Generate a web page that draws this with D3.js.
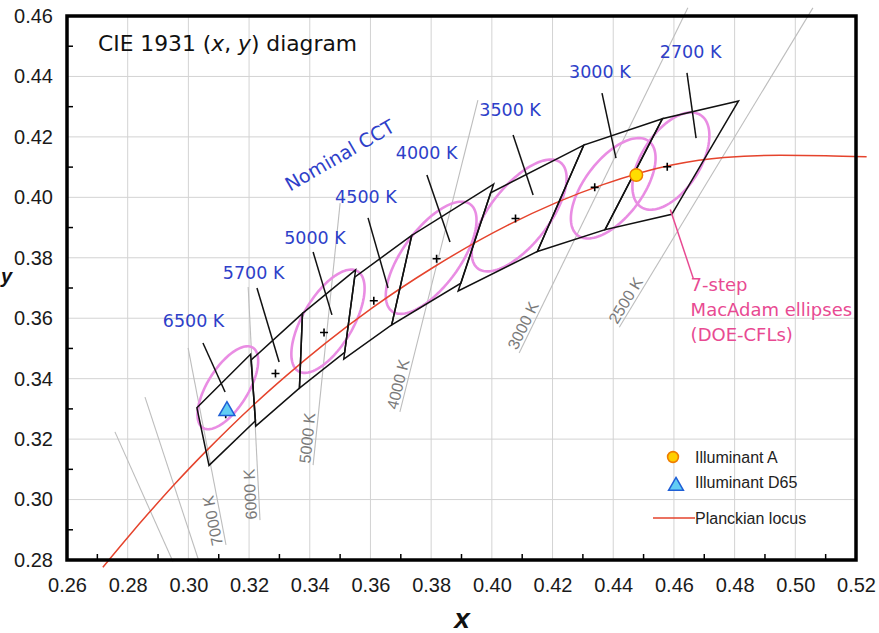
<!DOCTYPE html>
<html><head><meta charset="utf-8">
<script src="https://cdn.jsdelivr.net/npm/d3@7"></script>
<style>body{margin:0;background:#fff}svg{display:block}</style>
</head><body>
<svg id="chart" width="879" height="633"></svg>
<script>
// ---------------- data ----------------
const xTicks = [0.26,0.28,0.30,0.32,0.34,0.36,0.38,0.40,0.42,0.44,0.46,0.48,0.50,0.52];
const yTicks = [0.28,0.30,0.32,0.34,0.36,0.38,0.40,0.42,0.44,0.46];
const xMinor = [0.27,0.29,0.31,0.33,0.35,0.37,0.39,0.41,0.43,0.45,0.47,0.49,0.51];
const yMinor = [0.29,0.31,0.33,0.35,0.37,0.39,0.41,0.43,0.45];

// Planckian locus (x, y)
const planckX = [0.2718,0.2807,0.2870,0.2952,0.3064,0.3135,0.3220,0.3323,0.3450,0.3607,0.3805,0.4053,0.4366,0.4593,0.4765,0.4950,0.5100,0.5235];
const planckY = [0.2776,0.2883,0.2956,0.3048,0.3166,0.3237,0.3318,0.3410,0.3516,0.3635,0.3767,0.3908,0.4042,0.4107,0.4132,0.4139,0.4138,0.4134];

// Nominal CCT quadrangles (ANSI) and centre points
const cctLabels = ["6500 K","5700 K","5000 K","4500 K","4000 K","3500 K","3000 K","2700 K"];
const centerX = [0.3123,0.3287,0.3447,0.3611,0.3818,0.4078,0.4339,0.4578];
const centerY = [0.3282,0.3417,0.3553,0.3658,0.3797,0.3930,0.4033,0.4101];
const quadX = [
  [0.3205,0.3028,0.3068,0.3221],
  [0.3376,0.3207,0.3222,0.3366],
  [0.3551,0.3376,0.3366,0.3515],
  [0.3736,0.3548,0.3512,0.3670],
  [0.4006,0.3736,0.3670,0.3898],
  [0.4303,0.3996,0.3889,0.4150],
  [0.4562,0.4303,0.4150,0.4373],
  [0.4813,0.4562,0.4373,0.4593]
];
const quadY = [
  [0.3481,0.3304,0.3113,0.3261],
  [0.3616,0.3462,0.3243,0.3369],
  [0.3760,0.3616,0.3369,0.3487],
  [0.3874,0.3736,0.3465,0.3578],
  [0.4044,0.3874,0.3578,0.3716],
  [0.4173,0.4015,0.3690,0.3821],
  [0.4260,0.4173,0.3821,0.3893],
  [0.4319,0.4260,0.3893,0.3944]
];

// 7-step MacAdam ellipses (DOE-CFLs)
const ellCX = [0.313,0.346,0.380,0.409,0.440,0.459];
const ellCY = [0.337,0.359,0.380,0.394,0.403,0.412];
const ellA  = [0.0156,0.0192,0.0219,0.0222,0.0195,0.0181];
const ellB  = [0.0067,0.0083,0.0094,0.0097,0.0095,0.0096];
const ellTheta = [58.2,59.6,54.0,52.1,53.1,57.3];

// iso-temperature lines (top end, bottom end)
const isoLabels = ["","","7000 K","6000 K","5000 K","4000 K","3000 K","2500 K"];
const isoTopX = [0.2758,0.2857,0.2999,0.3197,0.3500,0.3954,0.4646,0.5058];
const isoTopY = [0.3224,0.3339,0.3502,0.3703,0.3981,0.4322,0.4627,0.4627];
const isoBotX = [0.2949,0.3035,0.3124,0.3236,0.3411,0.3697,0.4090,0.4420];
const isoBotY = [0.2795,0.2795,0.2850,0.2932,0.3114,0.3290,0.3485,0.3570];

// illuminants
const illumA = [0.4476,0.4074];
const illumD65 = [0.3127,0.3290];
const legendLabels = ["Illuminant A","Illuminant D65","Planckian locus"];

// annotation placement (data coords)
const cctLabelX = [0.3017,0.3215,0.3417,0.3585,0.3785,0.4060,0.4356,0.4655];
const cctLabelY = [0.3571,0.3730,0.3846,0.3981,0.4127,0.4269,0.4395,0.4461];
const leadX1 = [0.3048,0.3226,0.3411,0.3592,0.3786,0.4070,0.4363,0.4643];
const leadY1 = [0.3518,0.3700,0.3819,0.3932,0.4074,0.4206,0.4345,0.4412];
const leadX2 = [0.3121,0.3299,0.3473,0.3658,0.3862,0.4136,0.4409,0.4673];
const leadY2 = [0.3356,0.3455,0.3611,0.3700,0.3852,0.4008,0.4130,0.4196];

// ---------------- drawing ----------------
const svg = d3.select("#chart");
const L = 67, R = 856, T = 16, B = 560;
const x = d3.scaleLinear().domain([0.26,0.52]).range([L,R]);
const y = d3.scaleLinear().domain([0.28,0.46]).range([B,T]);

const BLUE = "#2e3fc9", PINK = "#e84a92", ELL = "#e98de3", RED = "#e5432c";
const sansT = "'Liberation Sans', Arial, sans-serif";
const sansL = "'DejaVu Sans', Verdana, sans-serif";

// grid
const grid = svg.append("g");
grid.selectAll("line.gx").data(xTicks.slice(1,-1)).join("line")
  .attr("x1", d=>x(d)).attr("x2", d=>x(d)).attr("y1", T).attr("y2", B)
  .attr("stroke","#d3d3d3").attr("stroke-width",1);
grid.selectAll("line.gy").data(yTicks.slice(1,-1)).join("line")
  .attr("y1", d=>y(d)).attr("y2", d=>y(d)).attr("x1", L).attr("x2", R)
  .attr("stroke","#d3d3d3").attr("stroke-width",1);

// axes with d3 axis generators (labels)
const xAxis = d3.axisBottom(x).tickValues(xTicks).tickFormat(d3.format(".2f")).tickSize(0).tickPadding(17);
const yAxis = d3.axisLeft(y).tickValues(yTicks).tickFormat(d3.format(".2f")).tickSize(0).tickPadding(14);
const gx = svg.append("g").attr("transform",`translate(0,${B})`).call(xAxis);
const gy = svg.append("g").attr("transform",`translate(${L},0)`).call(yAxis);
[gx,gy].forEach(g=>{
  g.select(".domain").remove();
  g.selectAll("text").attr("font-family",sansT).attr("font-size",20).attr("fill","#1a1a1a");
});
gx.selectAll("text").attr("dy","0.75em");

// minor ticks (inward)
svg.append("g").selectAll("line").data(xMinor).join("line")
  .attr("x1",d=>x(d)).attr("x2",d=>x(d)).attr("y1",B).attr("y2",B-6)
  .attr("stroke","#000").attr("stroke-width",1.5);
svg.append("g").selectAll("line").data(yMinor).join("line")
  .attr("y1",d=>y(d)).attr("y2",d=>y(d)).attr("x1",L).attr("x2",L+6)
  .attr("stroke","#000").attr("stroke-width",1.5);

// iso-temperature lines
const iso = svg.append("g");
isoLabels.forEach((lab,i)=>{
  const x1 = x(isoTopX[i]), y1 = y(isoTopY[i]), x2 = x(isoBotX[i]), y2 = y(isoBotY[i]);
  iso.append("line").attr("x1",x1).attr("y1",y1).attr("x2",x2).attr("y2",y2)
    .attr("stroke","#bdbdbd").attr("stroke-width",1.1);
  if (lab) {
    const ang = Math.atan2(y1-y2, x1-x2)*180/Math.PI;
    iso.append("text").attr("transform",`translate(${x2},${y2}) rotate(${ang})`)
      .attr("x",1).attr("y",-3)
      .attr("font-family",sansT).attr("font-size",16).attr("fill","#7a7a7a").text(lab);
  }
});

// ellipses
const line = d3.line().x(d=>x(d[0])).y(d=>y(d[1])).curve(d3.curveLinearClosed);
const ellG = svg.append("g");
ellCX.forEach((cx,i)=>{
  const th = ellTheta[i]*Math.PI/180, pts = [];
  for (let k=0;k<120;k++){
    const t = k/120*2*Math.PI;
    pts.push([cx + ellA[i]*Math.cos(t)*Math.cos(th) - ellB[i]*Math.sin(t)*Math.sin(th),
              ellCY[i] + ellA[i]*Math.cos(t)*Math.sin(th) + ellB[i]*Math.sin(t)*Math.cos(th)]);
  }
  ellG.append("path").attr("d",line(pts)).attr("fill","none")
    .attr("stroke",ELL).attr("stroke-width",2.6);
});

// Planckian locus
const pl = d3.line().x(d=>x(d[0])).y(d=>y(d[1])).curve(d3.curveMonotoneX);
svg.append("path").attr("d",pl(planckX.map((v,i)=>[v,planckY[i]])))
  .attr("fill","none").attr("stroke",RED).attr("stroke-width",1.5);

// quadrangles
const quadLine = d3.line().x(d=>x(d[0])).y(d=>y(d[1])).curve(d3.curveLinearClosed);
svg.append("g").selectAll("path").data(quadX).join("path")
  .attr("d",(q,i)=>quadLine(q.map((v,k)=>[v,quadY[i][k]])))
  .attr("fill","none").attr("stroke","#111").attr("stroke-width",1.5).attr("stroke-linejoin","miter");

// centre "+" markers
const cg = svg.append("g");
centerX.forEach((cx,i)=>{
  const px = x(cx), py = y(centerY[i]);
  cg.append("path").attr("d",`M${px-4},${py}H${px+4}M${px},${py-4}V${py+4}`)
    .attr("stroke","#000").attr("stroke-width",1.6);
});

// leaders + CCT labels
const ann = svg.append("g");
cctLabels.forEach((lab,i)=>{
  ann.append("line").attr("x1",x(leadX1[i])).attr("y1",y(leadY1[i]))
    .attr("x2",x(leadX2[i])).attr("y2",y(leadY2[i]))
    .attr("stroke","#111").attr("stroke-width",1.5);
  ann.append("text").attr("x",x(cctLabelX[i])).attr("y",y(cctLabelY[i]))
    .attr("text-anchor","middle").attr("font-family",sansL).attr("font-size",17.5)
    .attr("fill",BLUE).text(lab);
});

ann.append("text").attr("transform",`translate(${x(0.3510)},${y(0.4120)}) rotate(-30)`)
  .attr("text-anchor","middle").attr("font-family",sansL).attr("font-size",19)
  .attr("fill",BLUE).text("Nominal CCT");

// pink annotation
ann.append("line").attr("x1",x(0.4588)).attr("y1",y(0.3960))
  .attr("x2",x(0.4664)).attr("y2",y(0.3731)).attr("stroke",PINK).attr("stroke-width",1.5);
const pk = ann.append("text").attr("font-family",sansL).attr("font-size",18).attr("fill",PINK);
["7-step","MacAdam ellipses","(DOE-CFLs)"].forEach((s,k)=>{
  pk.append("tspan").attr("x",x(0.4655)).attr("y",y(0.3690)+k*25).text(s);
});

// illuminant markers
const tri = d3.symbol().type(d3.symbolTriangle);
svg.append("path").attr("d",tri.size(110)())
  .attr("transform",`translate(${x(illumD65[0])},${y(illumD65[1])-1})`)
  .attr("fill","#62cdf4").attr("stroke","#1f5fd6").attr("stroke-width",1.5);
svg.append("circle").attr("cx",x(illumA[0])).attr("cy",y(illumA[1])).attr("r",6.3)
  .attr("fill","#ffdd00").attr("stroke","#ef7d00").attr("stroke-width",1.5);

// legend
const lg = svg.append("g");
lg.append("circle").attr("cx",673).attr("cy",457).attr("r",5.4)
  .attr("fill","#ffcf00").attr("stroke","#ef7d00").attr("stroke-width",1.6);
lg.append("path").attr("d",tri.size(95)()).attr("transform","translate(676,486)")
  .attr("fill","#62cdf4").attr("stroke","#1f5fd6").attr("stroke-width",1.5);
lg.append("line").attr("x1",653).attr("x2",695).attr("y1",518).attr("y2",518)
  .attr("stroke",RED).attr("stroke-width",1.3);
legendLabels.forEach((s,k)=>{
  lg.append("text").attr("x",695).attr("y",[463,488,524][k])
    .attr("font-family",sansT).attr("font-size",16).attr("fill","#222").text(s);
});

// frame
svg.append("rect").attr("x",L).attr("y",T).attr("width",R-L).attr("height",B-T)
  .attr("fill","none").attr("stroke","#000").attr("stroke-width",3.5);

// title
const tt = svg.append("text").attr("x",98).attr("y",51).attr("font-family",sansL)
  .attr("font-size",21.8).attr("fill","#111");
tt.append("tspan").text("CIE 1931 (");
tt.append("tspan").attr("font-style","italic").text("x");
tt.append("tspan").text(", ");
tt.append("tspan").attr("font-style","italic").text("y");
tt.append("tspan").text(") diagram");

// axis titles
svg.append("text").attr("x",462).attr("y",628).attr("text-anchor","middle")
  .attr("font-family",sansT).attr("font-size",28).attr("font-weight","bold")
  .attr("font-style","italic").attr("fill","#111").text("x");
svg.append("text").attr("x",1).attr("y",283)
  .attr("font-family",sansT).attr("font-size",20).attr("font-weight","bold")
  .attr("font-style","italic").attr("fill","#111").text("y");
</script>
</body></html>
